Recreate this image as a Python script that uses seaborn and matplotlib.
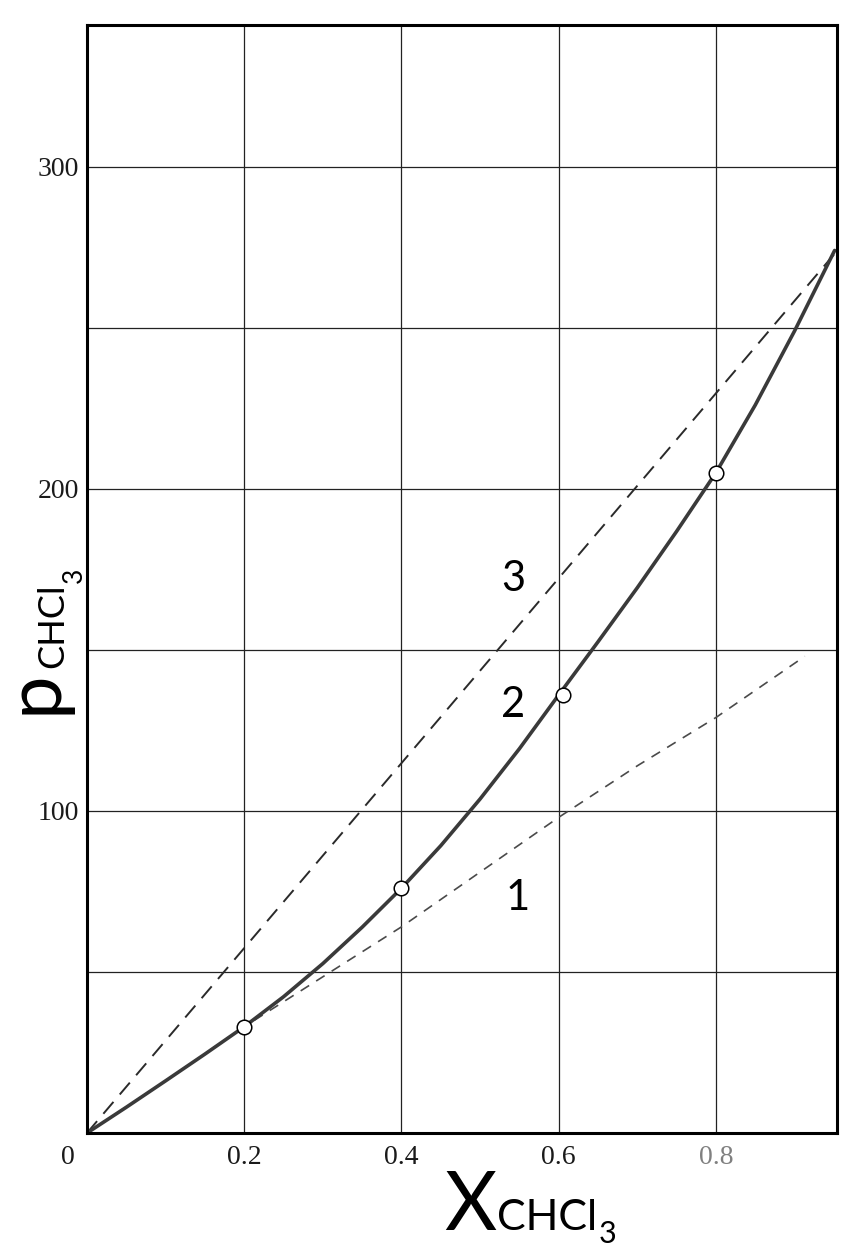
import matplotlib
matplotlib.use("Agg")
import matplotlib.pyplot as plt
import seaborn as sns

# ---- data ----
x_curve2 = [0, 0.05, 0.1, 0.15, 0.2, 0.25, 0.3, 0.35, 0.4, 0.45, 0.5, 0.55,
            0.6, 0.65, 0.7, 0.75, 0.8, 0.85, 0.9, 0.951]
p_curve2 = [0, 8, 16.2, 24.5, 33, 42.3, 52.6, 63.9, 76, 89.2, 103.7, 119.3,
            136, 152.5, 169.3, 186.8, 205, 226, 249, 274]
x_curve1 = [0, 0.1, 0.2, 0.3, 0.4, 0.5, 0.6, 0.7, 0.8, 0.913]
p_curve1 = [0, 16.2, 33, 48.5, 64, 81, 98, 114, 129, 148]
x_curve3 = [0, 0.951]
p_curve3 = [0, 273]
x_points = [0.2, 0.4, 0.605, 0.8]
p_points = [33, 76, 136, 205]

x_ticks = [0.2, 0.4, 0.6, 0.8]
x_ticklabels = ["0.2", "0.4", "0.6", "0.8"]
y_ticks = [100, 200, 300]
y_ticklabels = ["100", "200", "300"]
y_minor = [50, 150, 250]

curve_labels = ["1", "2", "3"]
curve_label_pos = [(0.548, 73), (0.542, 133), (0.542, 172)]

sns.set_style("white")
plt.rcParams['font.family'] = ['Lato', 'DejaVu Sans']

W, H = 850, 1250
fig = plt.figure(figsize=(W / 100, H / 100), dpi=100)
ax = fig.add_axes([87 / W, 1 - 1133 / H, 750 / W, 1108 / H])

ax.set_xlim(0, 0.954)
ax.set_ylim(0, 344)

# grid
ax.set_xticks(x_ticks)
ax.set_xticklabels(x_ticklabels)
ax.set_yticks(y_ticks)
ax.set_yticklabels(y_ticklabels)
ax.set_yticks(y_minor, minor=True)
ax.grid(True, which='both', color='#222222', lw=0.9)
ax.set_axisbelow(True)

for tl in ax.get_xticklabels() + ax.get_yticklabels():
    tl.set_family(['Liberation Serif', 'DejaVu Serif'])
    tl.set_fontsize(20)
    tl.set_color('#1a1a1a')
ax.get_xticklabels()[-1].set_color('#808080')
ax.tick_params(axis='x', length=0, pad=9)
ax.tick_params(axis='y', which='major', length=4, width=1, pad=2, direction='out')
ax.tick_params(axis='y', which='minor', length=0)

for s in ax.spines.values():
    s.set_visible(True)
    s.set_color('black')
    s.set_linewidth(2.2)

# curves
sns.lineplot(x=x_curve3, y=p_curve3, ax=ax, color='#2a2a2a', lw=1.4,
             linestyle=(0, (8, 5)), sort=False, estimator=None)
sns.lineplot(x=x_curve1, y=p_curve1, ax=ax, color='#4a4a4a', lw=1.2,
             linestyle=(0, (6, 5)), sort=False, estimator=None)
sns.lineplot(x=x_curve2, y=p_curve2, ax=ax, color='#3a3a3a', lw=2.6,
             sort=False, estimator=None)
sns.scatterplot(x=x_points, y=p_points, ax=ax, s=110, color='white',
                edgecolor='black', linewidth=1.1, zorder=5)

for lab, (lx, ly) in zip(curve_labels, curve_label_pos):
    ax.text(lx, ly, lab, fontsize=30, ha='center', va='center', color='black')

# origin label
ax.annotate("0", xy=(0, 0), xytext=(-19, -25), textcoords='offset pixels',
            ha='center', va='center', fontsize=20, color='#1a1a1a',
            family=['Liberation Serif', 'DejaVu Serif'])

renderer = fig.canvas.get_renderer()

def ftext(px, py, s, size, rot=0):
    return fig.text(px / W, 1 - py / H, s, fontsize=size, ha='left', va='baseline',
                    rotation=rot, rotation_mode='anchor', color='black')

# x label: pieces placed one after another
t = ftext(444, 1230, "X", 58)
bb = t.get_window_extent(renderer)
t = ftext(bb.x1 + 1, 1230, "CHCl", 31)
bb = t.get_window_extent(renderer)
ftext(bb.x1 + 1, 1243, "3", 22)

# y label (rotated), pieces stacked upward
t = ftext(56, 714, "p", 56, rot=90)
bb = t.get_window_extent(renderer)
t = ftext(63, H - bb.y1 - 2, "CHCl", 26, rot=90)
bb = t.get_window_extent(renderer)
ftext(82, H - bb.y1 - 1, "3", 19, rot=90)

fig.savefig("out.png", dpi=100)
